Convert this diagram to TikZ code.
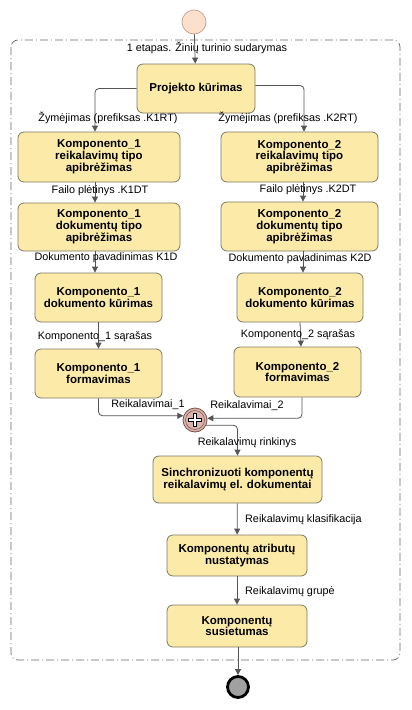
\documentclass[tikz,border=0pt]{standalone}
\usepackage{fontspec}
\setmainfont{Liberation Sans}
\usetikzlibrary{arrows.meta,calc}
\definecolor{taskfill}{RGB}{252,235,168}
\definecolor{taskdraw}{RGB}{125,120,100}
\definecolor{flowcol}{RGB}{85,85,85}
\definecolor{startfill}{RGB}{252,224,204}
\definecolor{startdraw}{RGB}{190,160,145}
\definecolor{gwfill}{RGB}{218,180,172}
\definecolor{gwdraw}{RGB}{120,80,75}
\tikzset{
  task/.style={draw=taskdraw, fill=taskfill, rounded corners=6pt, line width=0.8pt,
    align=center, font=\fontsize{11.5}{11.8}\selectfont\bfseries, inner sep=0pt},
  lbl/.style={font=\fontsize{10.8}{12}\selectfont, inner sep=0pt},
  flow/.style={draw=flowcol, line width=0.8pt, rounded corners=4pt,
    -{Triangle[length=6pt,width=6pt]}},
  grp/.style={draw=black!60, line width=0.7pt, rounded corners=7pt,
    dash pattern=on 8pt off 3pt on 1pt off 3pt},
}
\begin{document}
\begin{tikzpicture}[x=1pt,y=-1pt]
\useasboundingbox (0,0) rectangle (412,710);
% group
\draw[grp] (11,40) rectangle (400,660);
\node[lbl] (glabel) at (207,48) {1 etapas. Žinių turinio sudarymas};
% events
\node[circle, draw=startdraw, fill=startfill, minimum size=24pt, inner sep=0pt, line width=0.7pt] (start) at (194,22) {};
\node[circle, draw=black, fill=black!37, minimum size=21pt, inner sep=0pt, line width=2.8pt] (end) at (238,687) {};
% tasks
\node[task, minimum width=118pt, minimum height=49pt] (proj) at (196,88.5) {Projekto kūrimas};
\node[task, minimum width=162pt, minimum height=50pt] (k1r) at (99,157) {Komponento\_1\\reikalavimų tipo\\apibrėžimas};
\node[task, minimum width=157pt, minimum height=50pt] (k2r) at (299.5,157) {Komponento\_2\\reikalavimų tipo\\apibrėžimas};
\node[task, minimum width=162pt, minimum height=48pt] (k1d) at (99,227) {Komponento\_1\\dokumentų tipo\\apibrėžimas};
\node[task, minimum width=157pt, minimum height=49pt] (k2d) at (299.5,226.5) {Komponento\_2\\dokumentų tipo\\apibrėžimas};
\node[task, minimum width=127pt, minimum height=49pt] (k1k) at (98.5,297.5) {Komponento\_1\\dokumento kūrimas};
\node[task, minimum width=126pt, minimum height=49pt] (k2k) at (300,297.5) {Komponento\_2\\dokumento kūrimas};
\node[task, minimum width=127pt, minimum height=49pt] (k1f) at (98.5,373.5) {Komponento\_1\\formavimas};
\node[task, minimum width=127pt, minimum height=50pt] (k2f) at (297.5,372) {Komponento\_2\\formavimas};
\node[task, minimum width=169pt, minimum height=47pt] (sync) at (237.5,479.5) {Sinchronizuoti komponentų\\reikalavimų el. dokumentai};
\node[task, minimum width=140pt, minimum height=41pt] (attr) at (237,555.5) {Komponentų atributų\\nustatymas};
\node[task, minimum width=140pt, minimum height=42pt] (sus) at (237,626) {Komponentų\\susietumas};
% gateway
\node[circle, draw=gwdraw, fill=gwfill, minimum size=24pt, inner sep=0pt, line width=0.8pt] (gw) at (195,420) {};
\draw[gwdraw, line width=0.5pt] (gw.center) circle (9.5pt);
\draw[black, line width=3.2pt] ($(gw.center)+(-7,0)$) -- ($(gw.center)+(7,0)$) ($(gw.center)+(0,-7)$) -- ($(gw.center)+(0,7)$);
\draw[white, line width=1.4pt] ($(gw.center)+(-6.3,0)$) -- ($(gw.center)+(6.3,0)$) ($(gw.center)+(0,-6.3)$) -- ($(gw.center)+(0,6.3)$);
% flows
\draw[flow] (start) -- (proj);
\draw[flow] (proj.west) -| ([xshift=-4pt]k1r.north);
\draw[flow] ([yshift=3pt]proj.east) -| ([xshift=4.5pt]k2r.north);
\draw[flow] ([xshift=-4pt]k1r.south) -- ([xshift=-4pt]k1d.north);
\draw[flow] ([xshift=3.5pt]k2r.south) -- ([xshift=3.5pt]k2d.north);
\draw[flow] ([xshift=-4pt]k1d.south) -- ([xshift=-3.5pt]k1k.north);
\draw[flow] ([xshift=3.5pt]k2d.south) -- ([xshift=3pt]k2k.north);
\draw[flow] (k1k) -- (k1f);
\draw[flow] (k2k.south) -- ([xshift=3.5pt]k2f.north);
\draw[flow] (k1f.south) |- (gw.160);
\draw[flow] ([xshift=4.5pt]k2f.south) |- (gw.8);
\draw[flow] (gw.-25) -| (sync.north);
\draw[flow] (sync) -- (attr);
\draw[flow] (attr) -- (sus);
\draw[flow] ([xshift=1pt]sus.south) -- (end);
% labels
\node[lbl] (l1) at (108,118) {Žymėjimas (prefiksas .K1RT)};
\node[lbl] (l2) at (288,118) {Žymėjimas (prefiksas .K2RT)};
\node[lbl] (l3) at (100,191) {Failo plėtinys .K1DT};
\node[lbl] (l4) at (308,190) {Failo plėtinys .K2DT};
\node[lbl] (l5) at (106,258) {Dokumento pavadinimas K1D};
\node[lbl] (l6) at (300,259) {Dokumento pavadinimas K2D};
\node[lbl] (l7) at (95,337) {Komponento\_1 sąrašas};
\node[lbl] (l8) at (298,335) {Komponento\_2 sąrašas};
\node[lbl] (l9) at (148,405) {Reikalavimai\_1};
\node[lbl] (l10) at (247,406) {Reikalavimai\_2};
\node[lbl] (l11) at (247,443) {Reikalavimų rinkinys};
\node[lbl, anchor=west] (l12) at (245,520) {Reikalavimų klasifikacija};
\node[lbl, anchor=west] (l13) at (245,592) {Reikalavimų grupė};
\end{tikzpicture}
\end{document}
